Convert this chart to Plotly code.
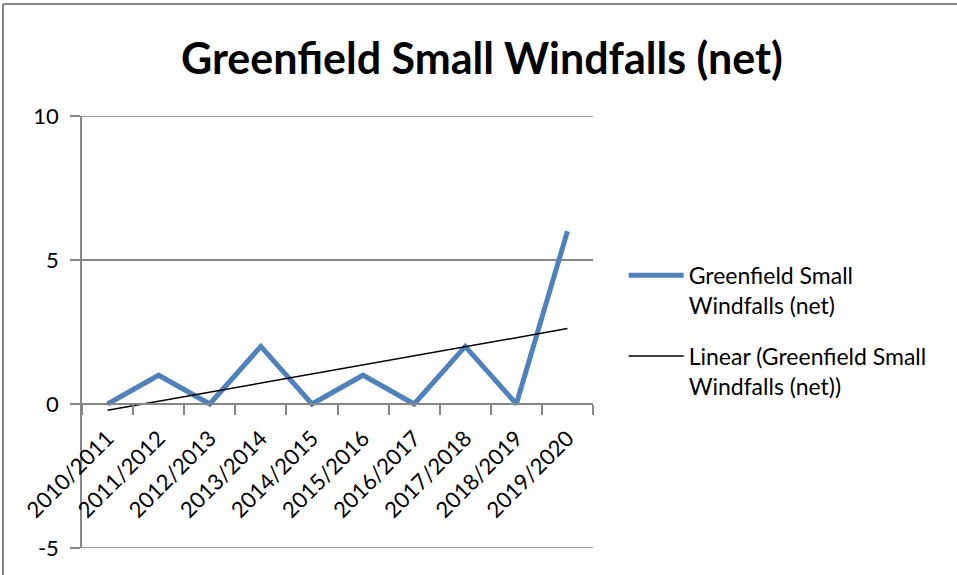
import numpy as np
import plotly.graph_objects as go

years = ['2010/2011', '2011/2012', '2012/2013', '2013/2014', '2014/2015',
         '2015/2016', '2016/2017', '2017/2018', '2018/2019', '2019/2020']
windfalls = [0, 1, 0, 2, 0, 1, 0, 2, 0, 6]

y_ticks = [-5, 0, 5, 10]
y_labels = ['-5', '0', '5', '10']

# linear trendline, the way Excel fits it (x = 1..n)
xi = np.arange(1, len(windfalls) + 1)
slope, icpt = np.polyfit(xi, windfalls, 1)
trend = slope * xi + icpt

FONT = 'Lato'
GREY = '#868686'

# plot area in pixels
L, R, T, B = 82, 364, 116, 27
W, H = 957 - L - R, 575 - T - B

fig = go.Figure()
fig.add_trace(go.Scatter(x=years, y=windfalls, mode='lines', legendgroup='a',
                         name='Greenfield Small<br>Windfalls (net)',
                         line=dict(color='#4F81BD', width=5)))
fig.add_trace(go.Scatter(x=years, y=trend, mode='lines', legendgroup='b',
                         name='Linear (Greenfield Small<br>Windfalls (net))',
                         line=dict(color='black', width=1.5)))

# top and bottom gridlines sit on the range edges, plotly drops those
edge_lines = [dict(type='line', xref='paper', yref='y', x0=0, x1=1, y0=v, y1=v,
                   line=dict(color=GREY, width=1.5), layer='below')
              for v in (y_ticks[0], y_ticks[-1])]

fig.update_layout(
    width=957, height=575,
    margin=dict(l=L, r=R, t=T, b=B),
    plot_bgcolor='white', paper_bgcolor='white',
    font=dict(family=FONT, size=22, color='black'),
    title=dict(text='<b>Greenfield Small Windfalls (net)</b>',
               font=dict(family=FONT, size=43, color='black'),
               xref='container', x=482 / 957, xanchor='center',
               yref='container', y=1 - 59 / 575, yanchor='middle'),
    legend=dict(x=1.06, y=0.681, xanchor='left', yanchor='top',
                font=dict(family=FONT, size=23), valign='top',
                traceorder='grouped', tracegroupgap=18, itemwidth=55),
    xaxis=dict(type='category', range=[-0.5, 9.5], anchor='free', position=1 / 3,
               showline=True, linecolor=GREY, linewidth=1.5,
               ticks='outside', tickson='boundaries', ticklen=10, tickcolor=GREY, tickwidth=1.5,
               tickangle=-45, showgrid=False, automargin=False, ticklabelstandoff=12,
               tickfont=dict(family=FONT, size=22)),
    yaxis=dict(range=[-5, 10], tickvals=y_ticks, ticktext=y_labels,
               showline=True, linecolor=GREY, linewidth=1.5,
               ticks='outside', ticklen=10, tickcolor=GREY, tickwidth=1.5,
               gridcolor=GREY, gridwidth=1.5, zeroline=False, automargin=False,
               ticklabelstandoff=7, tickfont=dict(family=FONT, size=22)),
    shapes=edge_lines + [
        dict(type='line', xref='paper', yref='paper', x0=(3 - L) / W, x1=(3 - L) / W,
             y0=1 + (T - 4) / H, y1=-B / H, line=dict(color=GREY, width=2)),
        dict(type='line', xref='paper', yref='paper', x0=(3 - L) / W, x1=1 + R / W,
             y0=1 + (T - 4) / H, y1=1 + (T - 4) / H, line=dict(color=GREY, width=2)),
    ],
)

fig.write_html("out.html", config={'displayModeBar': False},
               post_script="document.body.style.margin='0';document.body.style.overflow='hidden';")
